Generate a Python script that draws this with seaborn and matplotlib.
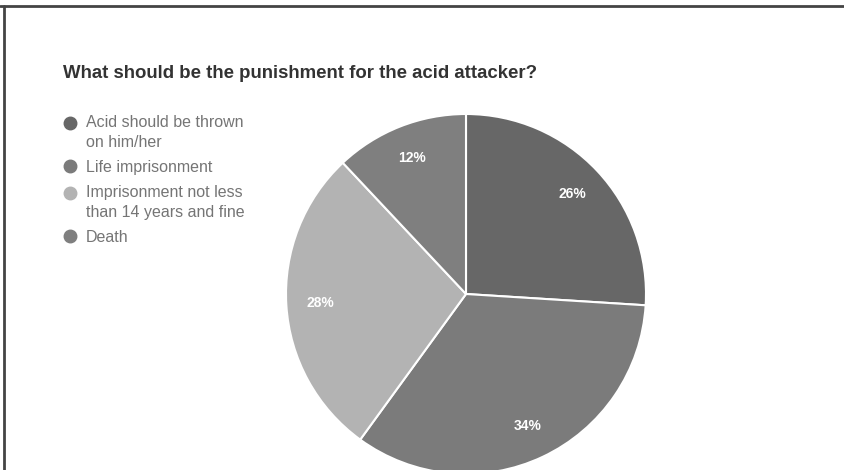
import matplotlib
matplotlib.use("Agg")
import numpy as np
import matplotlib.pyplot as plt
from matplotlib.lines import Line2D
import seaborn as sns

# data
labels = ["Acid should be thrown\non him/her", "Life imprisonment",
          "Imprisonment not less\nthan 14 years and fine", "Death"]
shares = [26, 34, 28, 12]
colors = ["#676767", "#7b7b7b", "#b3b3b3", "#7f7f7f"]
title = "What should be the punishment for the acid attacker?"

sns.set_theme(style="white")
plt.rcParams["font.family"] = ["Liberation Sans", "DejaVu Sans"]

W, H = 845, 470
fig = plt.figure(figsize=(W / 100, H / 100), dpi=100)
fig.patch.set_facecolor("white")

# pie axes placed in pixel terms: centre (466, 294), radius 180
cx, cy, r = 466, 294, 180
ax = fig.add_axes([(cx - r) / W, (H - cy - r) / H, 2 * r / W, 2 * r / H])
palette = sns.color_palette(colors)
wedges, _, autotexts = ax.pie(
    shares, colors=palette, startangle=90, counterclock=False,
    autopct="%d%%", pctdistance=0.81,
    wedgeprops=dict(edgecolor="white", linewidth=1.5),
    textprops=dict(color="white", fontsize=10, fontweight="bold"))
ax.set_xlim(-1, 1)
ax.set_ylim(-1, 1)
ax.set_aspect("equal")
ax.axis("off")

fig.text(63 / W, 1 - 73 / H, title, fontsize=13.4, fontweight="bold",
         color="#333333", va="center", ha="left")

handles = [Line2D([], [], marker="o", linestyle="none", markersize=9,
                  markerfacecolor=c, markeredgecolor=c) for c in palette]
leg = fig.legend(handles, labels, loc="upper left",
                 bbox_to_anchor=(62 / W, 1 - 115 / H), frameon=False,
                 fontsize=11.5, handletextpad=0.5, handlelength=1.0,
                 labelspacing=0.6, borderaxespad=0, borderpad=0)
for t in leg.get_texts():
    t.set_color("#757575")
    t.set_linespacing(1.45)
# markers of two-line entries sit beside the first line, not the middle
for lab, h in zip(labels, leg.legend_handles):
    if "\n" in lab:
        h.set_ydata(np.asarray(h.get_ydata()) + 7.2)

# dark frame along the top and left edges
fig.add_artist(Line2D([0, 1], [1 - 6 / H, 1 - 6 / H], color="#444444",
                      linewidth=2, transform=fig.transFigure))
fig.add_artist(Line2D([4 / W, 4 / W], [0, 1 - 6 / H], color="#444444",
                      linewidth=2, transform=fig.transFigure))

fig.savefig("out.png", dpi=100)
